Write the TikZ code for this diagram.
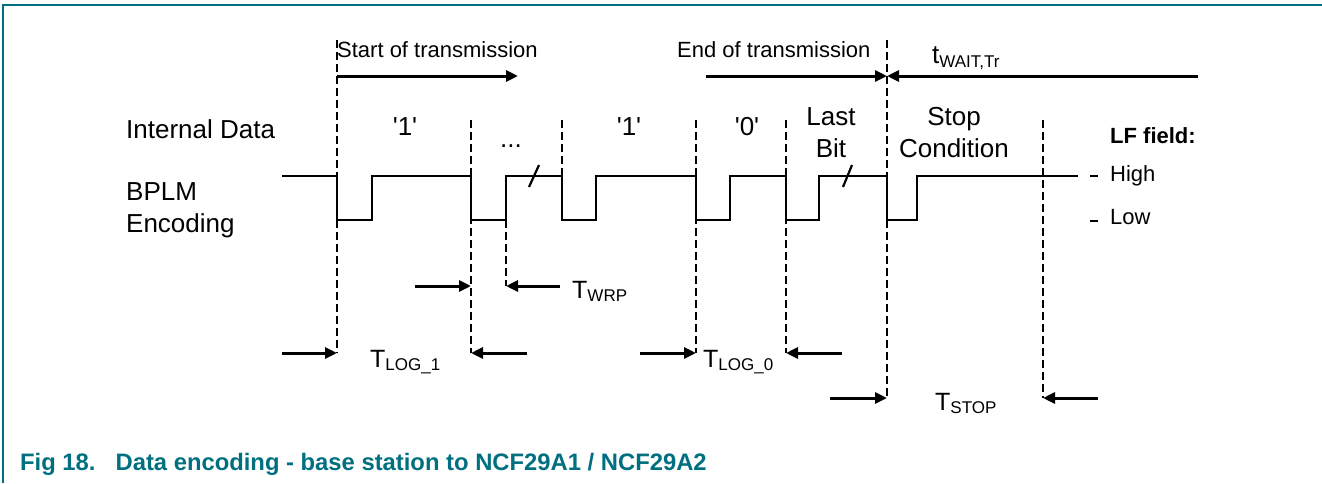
\documentclass[tikz,border=0pt]{standalone}
\usepackage{fontspec}
\setmainfont{Liberation Sans}
\usetikzlibrary{arrows.meta}
\definecolor{nxpteal}{RGB}{0,112,128}
\newcommand{\fsz}[1]{\fontsize{#1}{#1}\selectfont}
\newcommand{\tsub}[3]{#1\raisebox{-#3pt}{\fsz{17}#2}}
\begin{document}
\begin{tikzpicture}[x=1pt,y=-1pt,
  lbl/.style={inner sep=0pt, font=\fsz{26}},
  toplbl/.style={inner sep=0pt, font=\fsz{22}},
  tlbl/.style={inner sep=0pt, font=\fsz{25}, anchor=base west},
  sig/.style={line width=2.2pt, line join=miter},
  guide/.style={line width=2.8pt, dash pattern=on 8pt off 4pt},
  dimarrow/.style={line width=3pt, -{Triangle[length=12pt,width=11pt]}},
  ]
\useasboundingbox (0,0) rectangle (1322,483);
% frame
\draw[nxpteal, line width=2pt] (1322,5) -- (2.5,5) -- (2.5,483);

% ---- coordinates of guide lines
\coordinate (d1t) at (337,40);  \coordinate (d1b) at (337,353);
\coordinate (d2t) at (471,120); \coordinate (d2b) at (471,353);
\coordinate (d3t) at (506,220); \coordinate (d3b) at (506,286);
\coordinate (d4t) at (562,120); \coordinate (d4b) at (562,220);
\coordinate (d5t) at (696,120); \coordinate (d5b) at (696,353);
\coordinate (d6t) at (786,120); \coordinate (d6b) at (786,353);
\coordinate (d7t) at (887,40);  \coordinate (d7b) at (887,398);
\coordinate (d8t) at (1043,120);\coordinate (d8b) at (1043,398);

% ---- waveform
\draw[sig] (282,176) -- (337,176) -- (337,220) -- (372,220) -- (372,176)
  -- (471,176) -- (471,220) -- (506,220) -- (506,176) -- (562,176)
  -- (562,220) -- (596,220) -- (596,176) -- (696,176) -- (696,220)
  -- (730,220) -- (730,176) -- (786,176) -- (786,220) -- (819,220)
  -- (819,176) -- (887,176) -- (887,220) -- (917,220) -- (917,176)
  -- (1078,176);
\draw[sig] (529,187) -- (539,165);
\draw[sig] (843,187) -- (852,165);
\draw[line width=2pt] (1090,176) -- (1098,176);
\draw[line width=2pt] (1090,221) -- (1098,221);

% ---- guide lines
\foreach \i in {1,...,8} { \draw[guide] (d\i t) -- (d\i b); }

% ---- top arrows
\coordinate (st1) at (337,76);  \coordinate (st2) at (518,76);
\coordinate (en1) at (706,76);  \coordinate (en2) at (887,76);
\coordinate (tw1) at (1198,76); \coordinate (tw2) at (887,76);
\draw[dimarrow] (st1) -- (st2);
\draw[dimarrow] (en1) -- (en2);
\draw[dimarrow] (tw1) -- (tw2);

% ---- bottom arrows
\coordinate (l1a) at (282,353); \coordinate (l1b) at (337,353);
\coordinate (l1c) at (527,353); \coordinate (l1d) at (471,353);
\coordinate (wa) at (415,286);  \coordinate (wb) at (471,286);
\coordinate (wc) at (560,286);  \coordinate (wd) at (506,286);
\coordinate (l0a) at (640,353); \coordinate (l0b) at (696,353);
\coordinate (l0c) at (842,353); \coordinate (l0d) at (786,353);
\coordinate (spa) at (830,398); \coordinate (spb) at (887,398);
\coordinate (spc) at (1098,398);\coordinate (spd) at (1043,398);
\draw[dimarrow] (l1a) -- (l1b);
\draw[dimarrow] (l1c) -- (l1d);
\draw[dimarrow] (wa) -- (wb);
\draw[dimarrow] (wc) -- (wd);
\draw[dimarrow] (l0a) -- (l0b);
\draw[dimarrow] (l0c) -- (l0d);
\draw[dimarrow] (spa) -- (spb);
\draw[dimarrow] (spc) -- (spd);

% ---- labels
\node[toplbl, anchor=base west] (start) at (337,57) {Start of transmission};
\node[toplbl, anchor=base west] (end) at (677,57) {End of transmission};
\node[lbl, anchor=base west] (twait) at (932,63) {\tsub{t}{WAIT,Tr}{4}};
\node[lbl, anchor=base west] (intdata) at (126,138) {Internal Data};
\node[lbl, anchor=base west] (bplm) at (126,200) {BPLM};
\node[lbl, anchor=base west] (enc) at (126,232) {Encoding};
\node[lbl, anchor=base] (b1) at (405,135) {\textquotesingle 1\textquotesingle};
\node[lbl, anchor=base] (dots) at (511,147) {...};
\node[lbl, anchor=base] (b2) at (629,135) {\textquotesingle 1\textquotesingle};
\node[lbl, anchor=base] (b3) at (747,135) {\textquotesingle 0\textquotesingle};
\node[lbl, anchor=base] (last) at (831,125) {Last};
\node[lbl, anchor=base] (bit) at (831,157) {Bit};
\node[lbl, anchor=base] (stop) at (954,125) {Stop};
\node[lbl, anchor=base] (cond) at (954,157) {Condition};
\node[toplbl, font=\fsz{22}\bfseries, anchor=base west] (lf) at (1110,143) {LF field:};
\node[toplbl, anchor=base west] (high) at (1110,181) {High};
\node[toplbl, anchor=base west] (low) at (1110,224) {Low};
\node[tlbl] (tlog1) at (370,367) {\tsub{T}{LOG\_1}{3}};
\node[tlbl] (twrp) at (572,298) {\tsub{T}{WRP}{3}};
\node[tlbl] (tlog0) at (703,367) {\tsub{T}{LOG\_0}{3}};
\node[tlbl] (tstop) at (935,410) {\tsub{T}{STOP}{3}};
\node[inner sep=0pt, anchor=base west, font=\fsz{23.8}\bfseries, text=nxpteal] (cap) at (20,470)
  {Fig 18.\hspace{20pt}Data encoding - base station to NCF29A1 / NCF29A2};
\end{tikzpicture}
\end{document}
